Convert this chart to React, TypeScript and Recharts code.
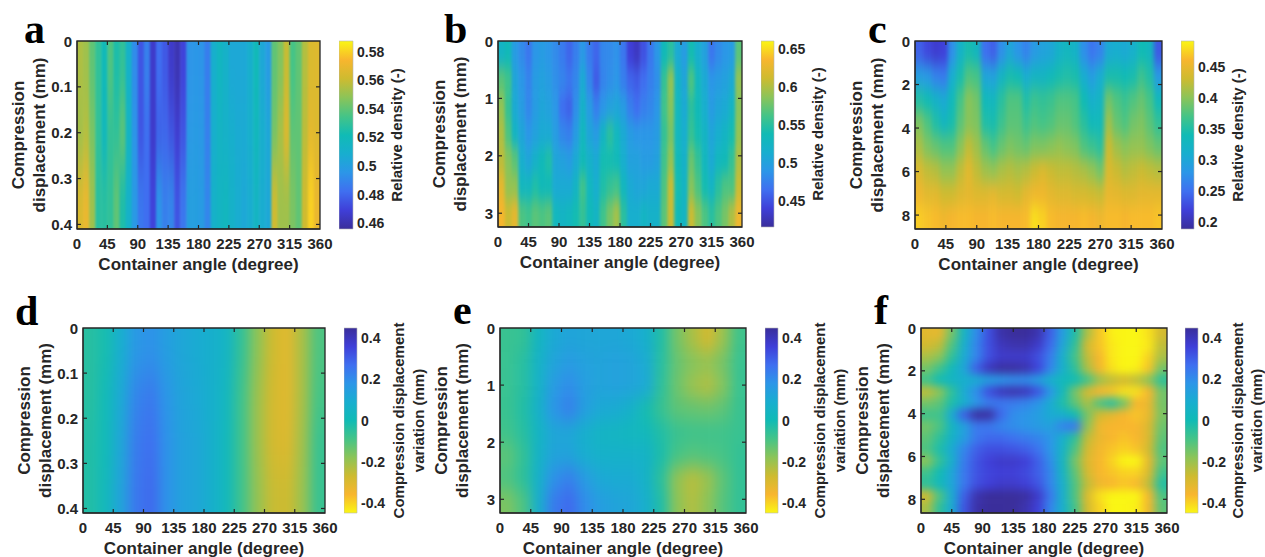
import React from "react";
import { ScatterChart, Scatter, XAxis, YAxis, ReferenceArea, ReferenceLine } from "recharts";

const angleTicks = [0, 45, 90, 135, 180, 225, 270, 315, 360];
const parula = ["#3A2E9B", "#3F3FD8", "#3F6FF0", "#2C96E8", "#18AECF", "#10BBB5", "#45C487", "#8CC458", "#CEBB30", "#F8B62E", "#FAF614"];

// relative density, thousandths
const rowsA = [
  [555,552,540,530,520,537,525,530,512,492,475,488,466,482,476,466,461,470,495,496,495,487,510,516,512,505,505,505,510,520,505,498,540,546,560,535,540,556,565,566],
  [552,556,545,530,518,530,530,540,515,495,475,482,466,478,480,475,468,475,497,498,497,488,510,514,512,510,507,507,510,518,510,505,544,554,566,540,540,558,568,566],
  [565,570,552,528,528,530,540,525,512,497,485,482,470,495,488,490,475,485,500,500,498,490,512,515,517,512,508,505,508,515,508,505,562,552,552,545,540,562,580,570],
];
const rowsB = [
  [525,535,495,482,470,490,495,490,482,472,460,475,492,472,460,480,482,487,470,440,432,450,470,490,535,550,510,495,540,515,500,470,482,490,495,570],
  [570,560,505,490,478,495,500,495,485,478,470,480,510,480,455,478,485,490,475,460,455,465,475,485,555,590,525,505,565,530,510,490,495,500,510,590],
  [590,555,510,495,480,495,505,500,490,465,458,485,520,495,475,490,500,505,495,475,465,475,480,490,560,585,530,510,550,535,515,495,505,510,525,585],
  [600,565,525,505,490,500,510,510,495,480,475,495,530,505,495,525,550,530,510,495,490,490,490,495,555,580,530,515,555,540,525,505,515,525,540,590],
  [605,585,570,515,505,520,535,545,505,500,495,510,535,520,510,540,540,535,515,500,500,495,495,500,560,590,535,520,575,555,530,510,530,535,555,600],
  [625,590,590,530,530,545,535,535,510,510,510,525,560,530,515,545,555,560,530,510,505,505,510,510,565,610,540,525,585,565,540,525,550,565,565,610],
  [635,610,625,565,560,570,565,570,530,525,530,540,555,535,525,560,580,595,550,515,515,525,520,520,570,610,535,525,610,585,565,550,565,580,600,630],
];
const rowsC = [
  [240,225,215,220,275,320,345,330,250,240,275,300,280,265,285,295,300,320,330,320,275,255,265,305,310,305,315,340,330,235],
  [290,285,265,260,310,345,375,370,300,295,325,345,340,310,325,325,335,345,350,345,310,290,310,345,345,340,345,365,350,285],
  [350,340,320,305,335,370,400,390,335,330,355,375,375,350,365,360,365,375,375,370,340,315,325,390,375,365,375,385,370,335],
  [395,375,350,330,345,380,400,395,350,345,365,380,380,365,375,370,375,385,385,375,355,335,335,410,385,375,390,395,380,360],
  [415,395,385,375,375,400,425,410,385,370,385,395,390,385,395,395,400,405,400,395,375,365,355,430,410,400,405,405,395,385],
  [440,425,420,405,405,425,445,425,410,405,415,420,415,420,430,440,430,425,425,420,415,405,390,440,430,420,425,430,425,420],
  [455,445,445,432,432,442,447,442,442,447,437,437,432,447,455,455,447,442,442,437,437,432,428,450,447,442,442,447,447,447],
  [472,468,464,456,460,464,464,460,460,464,460,460,460,464,480,474,464,460,460,460,464,460,455,464,464,460,464,464,464,468],
];
// compression displacement variation, hundredths of a mm
const rowsD = [
  [-4,-1,9,17,19,15,12,10,8,5,-6,-18,-27,-31,-22,-10],
  [-4,1,11,22,25,18,13,11,8,3,-8,-20,-28,-31,-22,-9],
  [-3,1,12,24,27,19,14,12,8,2,-8,-20,-28,-30,-21,-7],
  [-3,2,13,25,28,19,14,12,8,2,-8,-19,-26,-27,-20,-7],
];
const rowsE = [
  [-7,-6,4,11,13,12,12,12,11,8,-3,-15,-22,-28,-20,-8],
  [-7,-4,6,13,16,14,13,14,13,10,-4,-13,-17,-19,-15,-7],
  [-7,-4,6,16,20,15,13,14,13,11,-5,-14,-20,-23,-17,-7],
  [-7,-3,7,18,23,15,11,10,7,-1,-7,-12,-13,-14,-12,-7],
  [-8,-4,5,12,12,8,5,4,3,2,-3,-7,-8,-8,-8,-7],
  [-12,-6,6,13,13,9,7,7,7,6,-2,-9,-11,-10,-9,-6],
  [-10,-5,7,19,23,16,11,10,10,6,-5,-19,-24,-20,-12,-6],
  [-16,-10,8,24,28,20,15,13,12,8,-3,-18,-23,-18,-11,-6],
];
const rowsF = [
  [-31,-32,-15,5,20,33,43,46,45,42,30,15,-2,-22,-38,-44,-45,-45,-42,-28],
  [-28,-25,-10,8,22,33,40,42,42,38,28,12,-5,-28,-38,-43,-45,-45,-43,-25],
  [-22,-18,-5,10,22,33,38,38,38,33,24,8,-8,-25,-36,-43,-45,-45,-40,-22],
  [-15,-8,2,12,30,40,44,44,42,35,22,8,-5,-22,-35,-42,-45,-44,-38,-15],
  [-8,0,5,8,10,15,18,20,20,15,8,2,0,-8,-20,-25,-28,-25,-18,-5],
  [-25,-18,-5,10,20,33,40,42,40,32,18,2,-15,-28,-36,-38,-42,-42,-36,-15],
  [-15,-12,-2,8,18,24,25,24,22,18,10,-2,-12,-22,-10,-4,-15,-36,-33,-15],
  [-8,-8,10,30,44,44,28,20,18,15,10,8,0,-15,-28,-32,-36,-38,-33,-16],
  [-15,-10,4,14,25,25,22,20,18,16,14,22,25,-18,-34,-36,-36,-36,-30,-14],
  [-12,-5,6,15,25,28,28,26,24,22,18,8,-5,-25,-33,-36,-38,-36,-30,-12],
  [-10,-2,10,22,30,33,33,32,30,26,18,6,-10,-28,-35,-38,-40,-38,-28,-10],
  [-18,-6,8,24,32,36,38,38,36,30,20,4,-15,-30,-36,-40,-45,-45,-33,-12],
  [-8,0,12,25,32,35,36,36,34,30,22,5,-12,-28,-36,-38,-40,-40,-30,-8],
  [-5,2,12,25,33,36,38,38,36,32,22,8,-10,-25,-34,-36,-38,-36,-25,-3],
  [-28,-10,10,30,42,46,46,46,44,38,25,8,-10,-30,-42,-45,-45,-45,-36,-10],
  [-22,-5,10,32,43,46,46,46,42,36,22,8,-8,-28,-40,-45,-45,-44,-35,-12],
];

const densityLabel = ["Relative density (-)"];
const variationLabel = ["Compression displacement", "variation (mm)"];
const variationTicks = [-0.4, -0.2, 0, 0.2, 0.4];

const panels = [
  { id: "a", rows: rowsA, unit: 1000, px: [77, 320, 41, 229], cb: [339, 353], yMax: 0.41, yTicks: [0, 0.1, 0.2, 0.3, 0.4], range: [0.4558, 0.5877], cbTicks: [0.46, 0.48, 0.5, 0.52, 0.54, 0.56, 0.58], cbLabel: densityLabel, cbOff: [43, 0], rev: false, blur: [1.2, 25], letter: [24, 43] },
  { id: "b", rows: rowsB, unit: 1000, px: [498, 742, 41, 227], cb: [761, 774], yMax: 3.24, yTicks: [0, 1, 2, 3], range: [0.4158, 0.6605], cbTicks: [0.45, 0.5, 0.55, 0.6, 0.65], cbLabel: densityLabel, cbOff: [43, 0], rev: false, blur: [1.8, 8], letter: [444, 43] },
  { id: "c", rows: rowsC, unit: 1000, px: [915, 1162, 41, 229], cb: [1181, 1194], yMax: 8.64, yTicks: [0, 2, 4, 6, 8], range: [0.189, 0.492], cbTicks: [0.2, 0.25, 0.3, 0.35, 0.4, 0.45], cbLabel: densityLabel, cbOff: [43, 0], rev: false, blur: [2.2, 8], letter: [868, 43] },
  { id: "d", rows: rowsD, unit: 100, px: [83, 325, 328, 513], cb: [344, 357], yMax: 0.41, yTicks: [0, 0.1, 0.2, 0.3, 0.4], range: [-0.45, 0.45], cbTicks: variationTicks, cbLabel: variationLabel, cbOff: [41, 61], rev: true, blur: [6, 18], letter: [15, 325] },
  { id: "e", rows: rowsE, unit: 100, px: [500, 746, 328, 513], cb: [765, 778], yMax: 3.24, yTicks: [0, 1, 2, 3], range: [-0.45, 0.45], cbTicks: variationTicks, cbLabel: variationLabel, cbOff: [41, 61], rev: true, blur: [6, 9], letter: [453, 324] },
  { id: "f", rows: rowsF, unit: 100, px: [921, 1167, 328, 513], cb: [1185, 1198], yMax: 8.64, yTicks: [0, 2, 4, 6, 8], range: [-0.45, 0.45], cbTicks: variationTicks, cbLabel: variationLabel, cbOff: [39, 58], rev: true, blur: [5, 4], letter: [874, 324] },
];

const INK = "#262626";
const FONT = "'Liberation Sans', Arial, sans-serif";
const LEFT_W = 70;
const BOTTOM_H = 45;
const RIGHT_M = 30;
const TICK_LEN = 4;

function hex(c: string) {
  return [1, 3, 5].map((i) => parseInt(c.slice(i, i + 2), 16));
}
function colorAt(t0: number) {
  const t = Math.min(1, Math.max(0, t0)) * (parula.length - 1);
  const i = Math.min(parula.length - 2, Math.floor(t));
  const a = hex(parula[i]);
  const b = hex(parula[i + 1]);
  const f = t - i;
  return `rgb(${a.map((v, k) => Math.round(v + (b[k] - v) * f)).join(",")})`;
}

const XTick = ({ x, y, payload }: any) => (
  <text x={x} y={y + 20} textAnchor="middle" fontSize={15} fontWeight="bold" fontFamily={FONT} fill={INK}>{payload.value}</text>
);
const YTick = ({ x, y, payload }: any) => (
  <text x={x - 5} y={y + 5.5} textAnchor="end" fontSize={15} fontWeight="bold" fontFamily={FONT} fill={INK}>{payload.value}</text>
);
const CbTick = ({ x, y, payload }: any) => (
  <text x={x + 4} y={y + 5} textAnchor="start" fontSize={14} fontWeight="bold" fontFamily={FONT} fill={INK}>{payload.value}</text>
);
const NoMark = () => null;

function Heat({ p }: { p: (typeof panels)[number] }) {
  const [x0, x1, y0, y1] = p.px;
  const pw = x1 - x0;
  const ph = y1 - y0;
  const nr = p.rows.length;
  const nc = p.rows[0].length;
  const [lo, hi] = p.range;
  const data = p.rows.flatMap((row, r) =>
    row.map((v, c) => ({
      x: ((c + 0.5) * 360) / nc,
      y: ((r + 0.5) * p.yMax) / nr,
      v: v / p.unit,
      c,
      r,
    }))
  );
  const cw = pw / nc;
  const ch = ph / nr;
  const Cell = (s: any) => {
    const d = s.payload;
    const t = (d.v - lo) / (hi - lo);
    const fill = colorAt(p.rev ? 1 - t : t);
    const padX = p.blur[0] * 4;
    const padY = p.blur[1] * 4;
    const left = s.cx - cw / 2 - (d.c === 0 ? padX : 0);
    const right = s.cx + cw / 2 + (d.c === nc - 1 ? padX : 0.5);
    const top = s.cy - ch / 2 - (d.r === 0 ? padY : 0);
    const bot = s.cy + ch / 2 + (d.r === nr - 1 ? padY : 0.5);
    return <rect x={left} y={top} width={right - left} height={bot - top} fill={fill} />;
  };
  const size = { width: pw + LEFT_W + RIGHT_M, height: ph + 10 + BOTTOM_H };
  const margin = { top: 10, right: RIGHT_M, bottom: 0, left: 0 };
  const boxStyle: React.CSSProperties = { position: "absolute", left: x0 - LEFT_W, top: y0 - 10 };
  const dyTick = (TICK_LEN / ph) * p.yMax;
  const dxTick = (TICK_LEN / pw) * 360;
  return (
    <>
      <div className={`heat-${p.id}`} style={boxStyle}>
        <ScatterChart {...size} margin={margin}>
          <defs>
            <filter id={`blur-${p.id}`} filterUnits="userSpaceOnUse" x={-300} y={-300} width={1000} height={900} colorInterpolationFilters="sRGB">
              <feGaussianBlur stdDeviation={`${p.blur[0]} ${p.blur[1]}`} />
            </filter>
          </defs>
          <Scatter data={data} dataKey="y" shape={Cell} isAnimationActive={false} />
          <XAxis type="number" dataKey="x" domain={[0, 360]} height={BOTTOM_H} allowDataOverflow tick={false} tickLine={false} axisLine={false} />
          <YAxis type="number" dataKey="y" domain={[0, p.yMax]} reversed width={LEFT_W} allowDataOverflow tick={false} tickLine={false} axisLine={false} />
        </ScatterChart>
      </div>
      <div style={boxStyle}>
        <ScatterChart {...size} margin={margin}>
          <ReferenceArea x1={0} x2={360} y1={0} y2={p.yMax} fill="none" stroke={INK} strokeWidth={1.3} ifOverflow="visible" />
          {angleTicks.slice(1, -1).flatMap((a) => [
            <ReferenceLine key={`b${a}`} segment={[{ x: a, y: p.yMax }, { x: a, y: p.yMax - dyTick }]} stroke={INK} strokeWidth={1.2} ifOverflow="visible" />,
            <ReferenceLine key={`t${a}`} segment={[{ x: a, y: 0 }, { x: a, y: dyTick }]} stroke={INK} strokeWidth={1.2} ifOverflow="visible" />,
          ])}
          {p.yTicks.filter((t) => t > 0).flatMap((t) => [
            <ReferenceLine key={`l${t}`} segment={[{ x: 0, y: t }, { x: dxTick, y: t }]} stroke={INK} strokeWidth={1.2} ifOverflow="visible" />,
            <ReferenceLine key={`r${t}`} segment={[{ x: 360, y: t }, { x: 360 - dxTick, y: t }]} stroke={INK} strokeWidth={1.2} ifOverflow="visible" />,
          ])}
          <Scatter data={data} dataKey="y" shape={NoMark} isAnimationActive={false} />
          <XAxis type="number" dataKey="x" domain={[0, 360]} ticks={angleTicks} interval={0} height={BOTTOM_H} tickSize={0} tickMargin={0} tick={<XTick />} stroke={INK}
            label={{ value: "Container angle (degree)", position: "insideBottom", offset: 4, fontSize: 17, fontWeight: "bold", fontFamily: FONT, fill: INK }} />
          <YAxis type="number" dataKey="y" domain={[0, p.yMax]} reversed ticks={p.yTicks} interval={0} width={LEFT_W} tickSize={0} tickMargin={0} tick={<YTick />} stroke={INK}
            label={() => {
              const cy = 10 + ph / 2;
              return (
                <g fontSize={17} fontWeight="bold" fontFamily={FONT} fill={INK} textAnchor="middle">
                  <text transform={`translate(${LEFT_W - 59},${cy}) rotate(-90)`} dy={6}>Compression</text>
                  <text transform={`translate(${LEFT_W - 38},${cy}) rotate(-90)`} dy={6}>displacement (mm)</text>
                </g>
              );
            }} />
        </ScatterChart>
      </div>
    </>
  );
}

function ColorBar({ p }: { p: (typeof panels)[number] }) {
  const [, , y0, y1] = p.px;
  const [c0, c1] = p.cb;
  const ph = y1 - y0;
  const gid = `grad-${p.id}`;
  const rightW = 90;
  const two = p.cbLabel.length > 1;
  const marks = p.cbTicks.map((t) => ({ x: 0.5, y: t }));
  return (
    <div style={{ position: "absolute", left: c0, top: y0 - 10 }}>
      <ScatterChart width={c1 - c0 + rightW} height={ph + 20} margin={{ top: 10, right: 0, bottom: 10, left: 0 }}>
        <defs>
          <linearGradient id={gid} x1="0" y1={p.rev ? "0" : "1"} x2="0" y2={p.rev ? "1" : "0"}>
            {parula.map((c, i) => (
              <stop key={i} offset={i / (parula.length - 1)} stopColor={c} />
            ))}
          </linearGradient>
        </defs>
        <ReferenceArea x1={0} x2={1} y1={p.range[0]} y2={p.range[1]} fill={`url(#${gid})`} fillOpacity={1} stroke="#b5b5b5" strokeWidth={0.6} ifOverflow="visible" />
        <Scatter data={marks} dataKey="y" shape={NoMark} isAnimationActive={false} />
        <XAxis type="number" dataKey="x" domain={[0, 1]} hide />
        <YAxis orientation="right" type="number" dataKey="y" domain={p.range} ticks={p.cbTicks} interval={0} width={rightW} tickSize={0} tickMargin={0} axisLine={false} tick={<CbTick />}
          label={() => {
            const cy = 10 + ph / 2;
            const bw = c1 - c0;
            return (
              <g fontSize={15} fontWeight="bold" fontFamily={FONT} fill={INK} textAnchor="middle">
                <text transform={`translate(${bw + p.cbOff[0]},${cy}) rotate(-90)`} dy={5.5}>{p.cbLabel[0]}</text>
                {two && <text transform={`translate(${bw + p.cbOff[1]},${cy}) rotate(-90)`} dy={5.5}>{p.cbLabel[1]}</text>}
              </g>
            );
          }} />
      </ScatterChart>
    </div>
  );
}

export default function App() {
  const css = panels.map((p) => `.heat-${p.id} .recharts-scatter{filter:url(#blur-${p.id});}`).join("\n");
  return (
    <div style={{ position: "absolute", left: 0, top: 0, width: 1265, height: 557, background: "#fff", overflow: "hidden" }}>
      <style>{css}</style>
      {panels.map((p) => (
        <React.Fragment key={p.id}>
          <Heat p={p} />
          <ColorBar p={p} />
        </React.Fragment>
      ))}
      <svg width={1265} height={557} style={{ position: "absolute", left: 0, top: 0, pointerEvents: "none" }}>
        {panels.map((p) => (
          <text key={p.id} x={p.letter[0]} y={p.letter[1]} fontSize={42} fontWeight="bold" fontFamily="'Liberation Serif', serif" fill="#000">{p.id}</text>
        ))}
      </svg>
    </div>
  );
}
